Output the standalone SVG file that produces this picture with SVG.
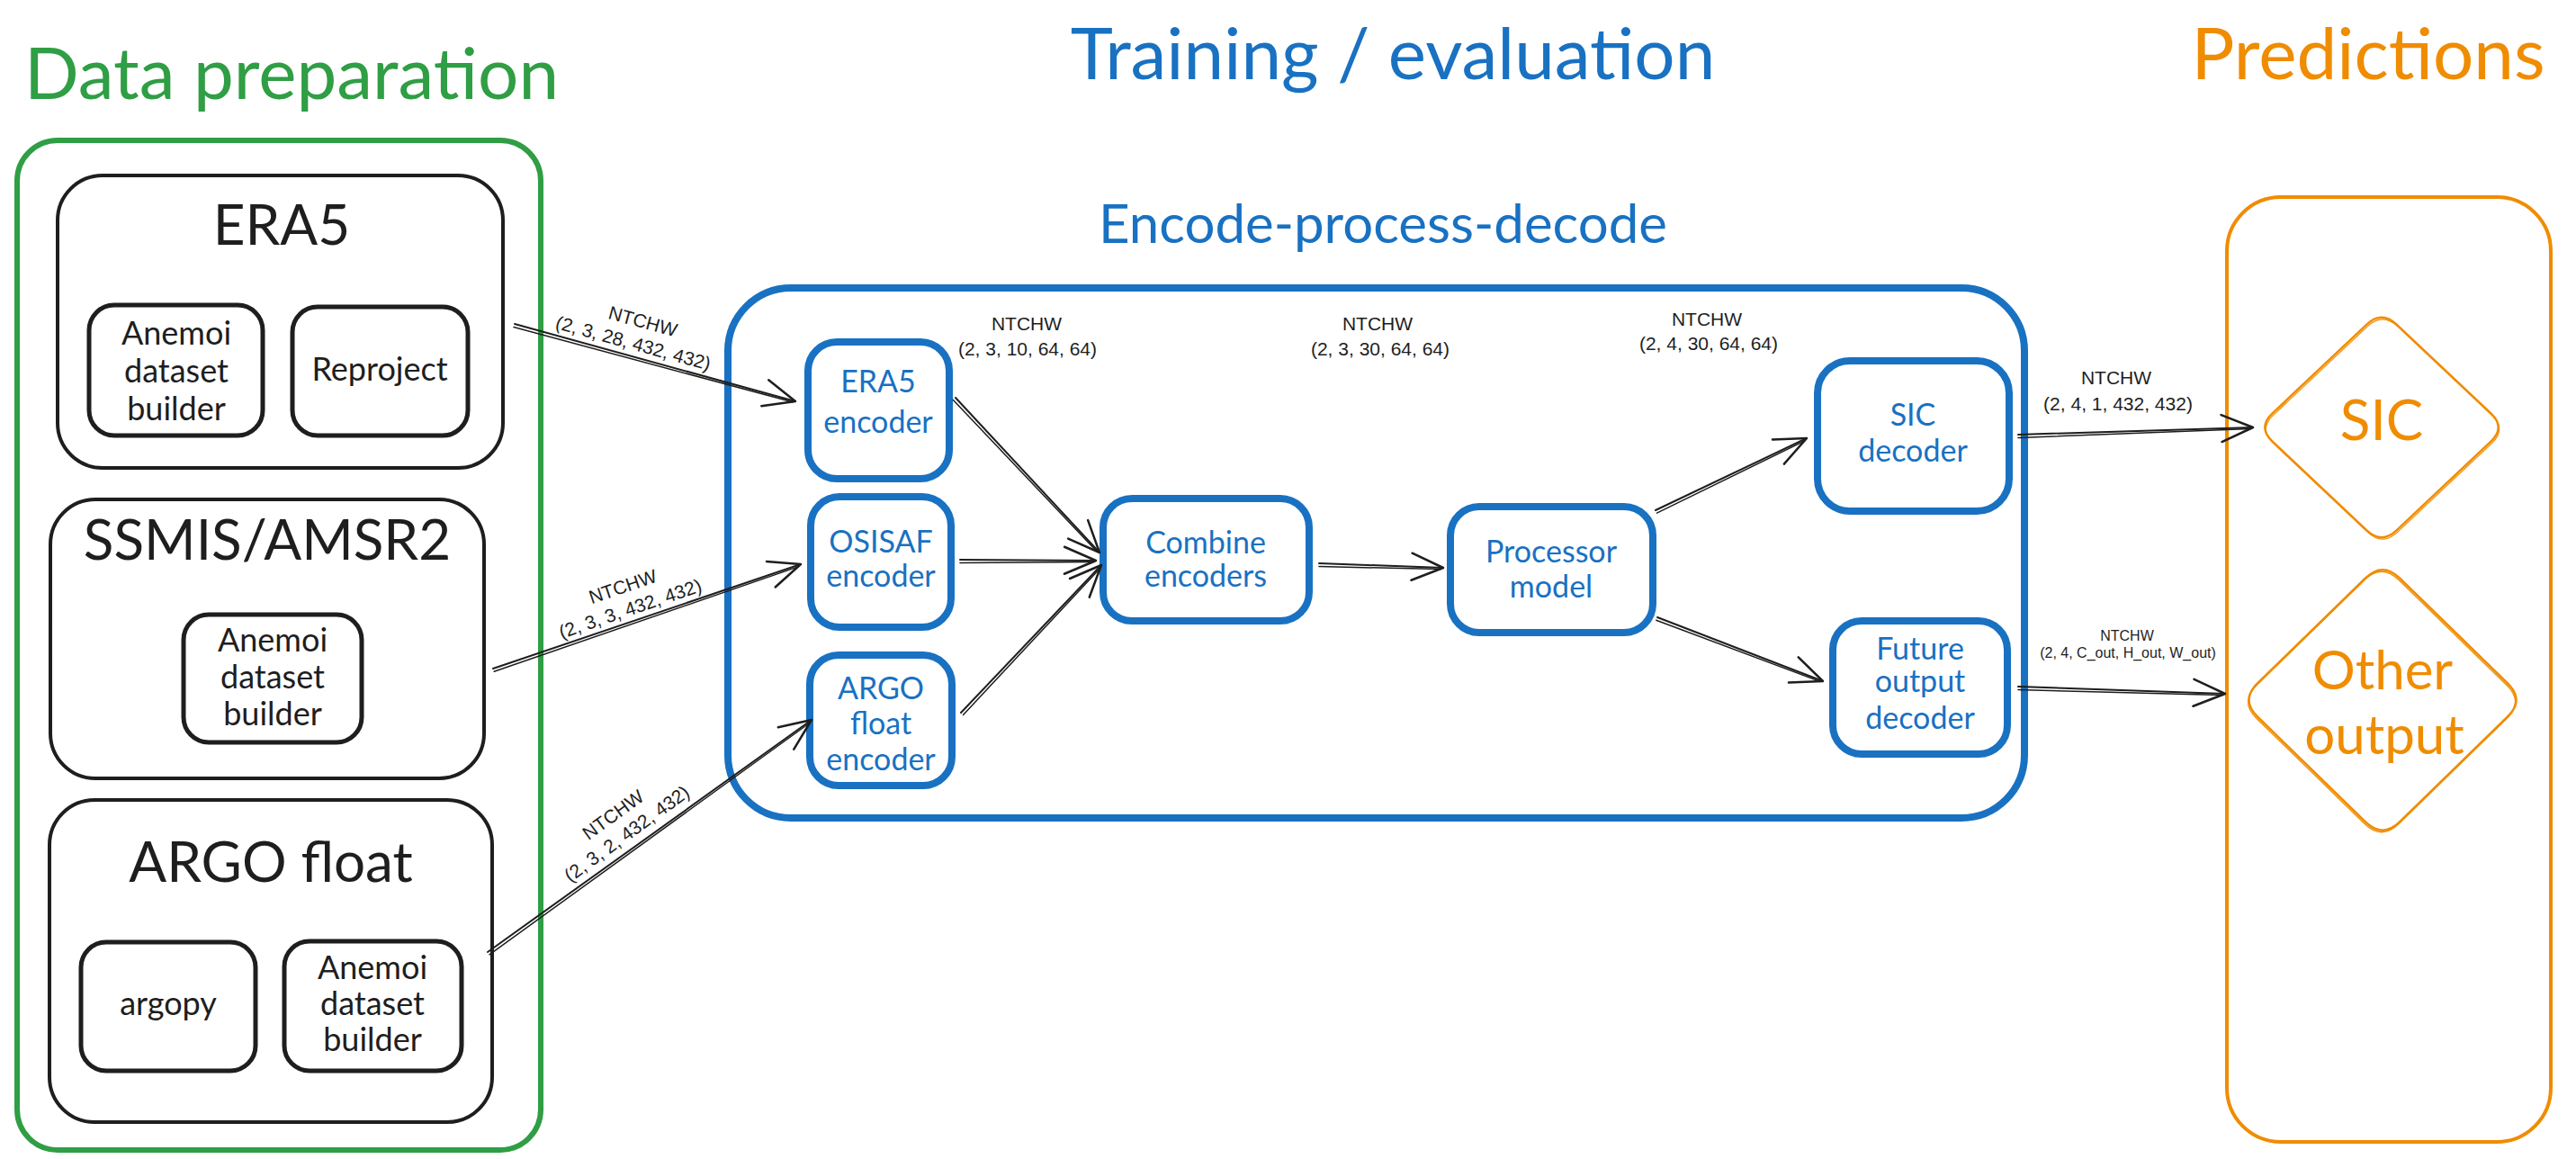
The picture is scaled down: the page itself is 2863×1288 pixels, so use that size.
<svg xmlns="http://www.w3.org/2000/svg" width="2863" height="1288" viewBox="0 0 2863 1288">
<defs>
<style>
.t{font-family:Lato,"Open Sans",sans-serif;text-anchor:middle}
.title{font-size:80px}
.sub{font-size:60px;fill:#1971c2}
.hd{font-size:62px;fill:#1e1e1e}
.sm{font-size:36px;fill:#1e1e1e}
.nd{font-size:34px;fill:#1971c2}
.pr{font-size:60px;fill:#f08c00}
.lbl{font-family:"Liberation Sans",Arial,sans-serif;font-size:21px;fill:#1e1e1e;text-anchor:middle}
.kbox{fill:none;stroke:#1e1e1e;stroke-width:4}
.kbox2{fill:none;stroke:#1e1e1e;stroke-width:5}
.bbox{fill:none;stroke:#1971c2;stroke-width:8}
.ln{fill:none;stroke:#1e1e1e;stroke-width:2;stroke-linecap:round}
.ln2{fill:none;stroke:#1e1e1e;stroke-width:1.5;stroke-linecap:round}
.dia{fill:none;stroke:#f08c00;stroke-width:2.5}
.dia2{fill:none;stroke:#f08c00;stroke-width:1.2}
</style>
<marker id="ah" viewBox="-40 -20 44 40" refX="0" refY="0" markerWidth="44" markerHeight="40" markerUnits="userSpaceOnUse" orient="auto">
<path d="M-35,-15 L0,0 L-35,15" fill="none" stroke="#1e1e1e" stroke-width="2.5" stroke-linecap="round" stroke-linejoin="round"/>
</marker>
</defs>
<rect width="2863" height="1288" fill="#ffffff"/>

<!-- Section titles -->
<g id="title-data-preparation"><text class="t title" x="324" y="110" fill="#2f9e44">Data preparation</text></g>
<g id="title-training"><text class="t title" x="1548" y="88" fill="#1971c2">Training / evaluation</text></g>
<g id="title-predictions"><text class="t title" x="2632" y="88" fill="#f08c00">Predictions</text></g>

<!-- Data preparation container -->
<g id="data-preparation">
<rect x="19" y="156" width="582" height="1122" rx="45" fill="none" stroke="#2f9e44" stroke-width="6"/>
</g>

<g id="era5">
<rect class="kbox" x="64" y="195" width="495" height="325" rx="50"/>
<text class="t hd" x="313" y="272">ERA5</text>
</g>
<g id="era5-anemoi">
<rect class="kbox2" x="99" y="339" width="193" height="145" rx="28"/>
<text class="t sm" x="196" y="383">Anemoi</text>
<text class="t sm" x="196" y="425">dataset</text>
<text class="t sm" x="196" y="467">builder</text>
</g>
<g id="era5-reproject">
<rect class="kbox2" x="325" y="341" width="195" height="143" rx="28"/>
<text class="t sm" x="422" y="423">Reproject</text>
</g>

<g id="ssmis">
<rect class="kbox" x="56" y="555" width="482" height="310" rx="50"/>
<text class="t hd" x="297" y="622">SSMIS/AMSR2</text>
</g>
<g id="ssmis-anemoi">
<rect class="kbox2" x="204" y="683" width="198" height="142" rx="28"/>
<text class="t sm" x="303" y="724">Anemoi</text>
<text class="t sm" x="303" y="765">dataset</text>
<text class="t sm" x="303" y="806">builder</text>
</g>

<g id="argo">
<rect class="kbox" x="55" y="889" width="492" height="358" rx="50"/>
<text class="t hd" x="301" y="980">ARGO float</text>
</g>
<g id="argo-argopy">
<rect class="kbox2" x="90" y="1047" width="194" height="143" rx="28"/>
<text class="t sm" x="187" y="1128">argopy</text>
</g>
<g id="argo-anemoi">
<rect class="kbox2" x="316" y="1046" width="197" height="144" rx="28"/>
<text class="t sm" x="414" y="1088">Anemoi</text>
<text class="t sm" x="414" y="1128">dataset</text>
<text class="t sm" x="414" y="1168">builder</text>
</g>

<!-- Encode-process-decode container -->
<g id="encode-process-decode">
<text class="t sub" x="1537" y="270">Encode-process-decode</text>
<rect class="bbox" x="809" y="320" width="1441" height="589" rx="70"/>
</g>

<g id="era5-encoder">
<rect class="bbox" x="898" y="380" width="157" height="152" rx="32"/>
<text class="t nd" x="976" y="436">ERA5</text>
<text class="t nd" x="976" y="481">encoder</text>
</g>
<g id="osisaf-encoder">
<rect class="bbox" x="901" y="552" width="156" height="145" rx="32"/>
<text class="t nd" x="979" y="614">OSISAF</text>
<text class="t nd" x="979" y="652">encoder</text>
</g>
<g id="argo-encoder">
<rect class="bbox" x="900" y="728" width="158" height="145" rx="32"/>
<text class="t nd" x="979" y="777">ARGO</text>
<text class="t nd" x="979" y="816">float</text>
<text class="t nd" x="979" y="856">encoder</text>
</g>
<g id="combine-encoders">
<rect class="bbox" x="1226" y="554" width="229" height="136" rx="32"/>
<text class="t nd" x="1340" y="615">Combine</text>
<text class="t nd" x="1340" y="652">encoders</text>
</g>
<g id="processor-model">
<rect class="bbox" x="1612" y="563" width="225" height="140" rx="32"/>
<text class="t nd" x="1724" y="625">Processor</text>
<text class="t nd" x="1724" y="664">model</text>
</g>
<g id="sic-decoder">
<rect class="bbox" x="2020" y="401" width="213" height="167" rx="36"/>
<text class="t nd" x="2126" y="473">SIC</text>
<text class="t nd" x="2126" y="513">decoder</text>
</g>
<g id="future-decoder">
<rect class="bbox" x="2037" y="690" width="194" height="148" rx="32"/>
<text class="t nd" x="2134" y="733">Future</text>
<text class="t nd" x="2134" y="769">output</text>
<text class="t nd" x="2134" y="810">decoder</text>
</g>

<!-- Predictions container -->
<g id="predictions">
<rect x="2475" y="219" width="360" height="1050" rx="60" fill="none" stroke="#f08c00" stroke-width="4"/>
</g>
<g id="sic-output">
<path class="dia" d="M2630.4,360.6 Q2647,345 2663.6,360.6 L2768.4,459.4 Q2785,475 2768.4,490.6 L2663.6,589.4 Q2647,605 2630.4,589.4 L2525.6,490.6 Q2509,475 2525.6,459.4 Z"/>
<path class="dia2" transform="translate(1,2)" d="M2630.4,360.6 Q2647,345 2663.6,360.6 L2768.4,459.4 Q2785,475 2768.4,490.6 L2663.6,589.4 Q2647,605 2630.4,589.4 L2525.6,490.6 Q2509,475 2525.6,459.4 Z"/>
<text class="t pr" x="2647" y="489" style="font-size:62px">SIC</text>
</g>
<g id="other-output">
<path class="dia" d="M2629,642.5 Q2648,624 2667,642.5 L2787,759.5 Q2806,778 2787,796.5 L2667,913.5 Q2648,932 2629,913.5 L2509,796.5 Q2490,778 2509,759.5 Z"/>
<path class="dia2" transform="translate(-1,2)" d="M2629,642.5 Q2648,624 2667,642.5 L2787,759.5 Q2806,778 2787,796.5 L2667,913.5 Q2648,932 2629,913.5 L2509,796.5 Q2490,778 2509,759.5 Z"/>
<text class="t pr" x="2648" y="766">Other</text>
<text class="t pr" x="2650" y="838">output</text>
</g>

<!-- Connectors -->
<g id="connectors">
<path class="ln" d="M572,360 L884,446" marker-end="url(#ah)"/>
<path class="ln2" d="M571,363.5 L880.7,446.8"/>
<path class="ln" d="M548,743 L890,627" marker-end="url(#ah)"/>
<path class="ln2" d="M549.2,746.3 L887.7,629.6"/>
<path class="ln" d="M542,1058 L902,800" marker-end="url(#ah)"/>
<path class="ln2" d="M544,1060.8 L900.5,803"/>
<path class="ln" d="M1062,442 L1222,614" marker-end="url(#ah)"/>
<path class="ln2" d="M1059.4,444.4 L1218.9,612.8"/>
<path class="ln" d="M1067,622 L1218,623" marker-end="url(#ah)"/>
<path class="ln2" d="M1067,625.5 L1215,624.6"/>
<path class="ln" d="M1068,792 L1224,628" marker-end="url(#ah)"/>
<path class="ln2" d="M1070.5,794.4 L1223,631.2"/>
<path class="ln" d="M1466,626 L1604,631" marker-end="url(#ah)"/>
<path class="ln2" d="M1466,629.5 L1601,632.6"/>
<path class="ln" d="M1840,567 L2008,487" marker-end="url(#ah)"/>
<path class="ln2" d="M1841.5,570.2 L2005.9,489.8"/>
<path class="ln" d="M1842,686 L2026,757" marker-end="url(#ah)"/>
<path class="ln2" d="M1840.7,689.3 L2022.7,757.4"/>
<path class="ln" d="M2243,483 L2504,475" marker-end="url(#ah)"/>
<path class="ln2" d="M2243,486.5 L2501,476.5"/>
<path class="ln" d="M2243,763 L2473,771" marker-end="url(#ah)"/>
<path class="ln2" d="M2243,766.5 L2470,772.6"/>

<g transform="translate(700,395) rotate(15.4)">
<text class="lbl" x="4" y="-33">NTCHW</text>
<text class="lbl" x="0" y="-7">(2, 3, 28, 432, 432)</text>
</g>
<g transform="translate(705,690) rotate(-18.7)">
<text class="lbl" x="0" y="-33">NTCHW</text>
<text class="lbl" x="0" y="-7">(2, 3, 3, 432, 432)</text>
</g>
<g transform="translate(705,938) rotate(-36)">
<text class="lbl" x="0" y="-33">NTCHW</text>
<text class="lbl" x="0" y="-7">(2, 3, 2, 432, 432)</text>
</g>
<text class="lbl" x="1141" y="367">NTCHW</text>
<text class="lbl" x="1142" y="395">(2, 3, 10, 64, 64)</text>
<text class="lbl" x="1531" y="367">NTCHW</text>
<text class="lbl" x="1534" y="395">(2, 3, 30, 64, 64)</text>
<text class="lbl" x="1897" y="362">NTCHW</text>
<text class="lbl" x="1899" y="389">(2, 4, 30, 64, 64)</text>
<text class="lbl" x="2352" y="427">NTCHW</text>
<text class="lbl" x="2354" y="456">(2, 4, 1, 432, 432)</text>
<text class="lbl" x="2364" y="712" style="font-size:16px">NTCHW</text>
<text class="lbl" x="2365" y="731" style="font-size:16px">(2, 4, C_out, H_out, W_out)</text>
</g>
</svg>
